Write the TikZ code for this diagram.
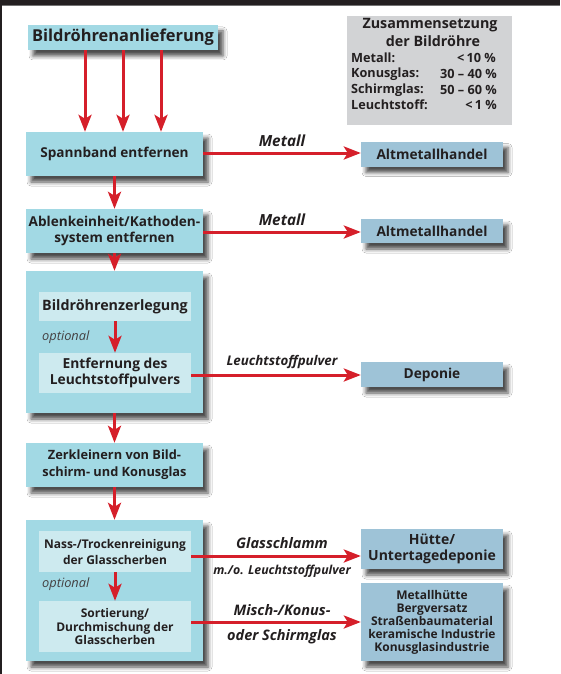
\documentclass[tikz,border=0pt]{standalone}
\usepackage{fontspec}
\setmainfont{Open Sans}
\usetikzlibrary{arrows.meta,shadows.blur,calc}
\definecolor{boxc}{HTML}{A2D9E4}
\definecolor{innerc}{HTML}{CDEAEF}
\definecolor{outc}{HTML}{9EC3D7}
\definecolor{legc}{HTML}{D2D3D5}
\definecolor{arrc}{HTML}{D51F2A}
\definecolor{txtc}{HTML}{231F20}
\newcommand{\fs}[2]{\fontsize{#1}{#2}\selectfont}
\begin{document}
\begin{tikzpicture}[x=1pt,y=-1pt,
  every node/.style={text=txtc},
  shad/.style={blur shadow={shadow xshift=5pt, shadow yshift=-6pt, shadow blur radius=4pt, shadow opacity=70}},
  mainbox/.style={fill=boxc, inner sep=0pt, align=center, font=\bfseries\fs{13.6}{16.5}, shad},
  bigbox/.style={fill=boxc, inner sep=0pt, shad},
  innerbox/.style={fill=innerc, inner sep=0pt, align=center, font=\bfseries\fs{13.8}{16}},
  outbox/.style={fill=outc, inner sep=0pt, align=center, font=\bfseries\fs{13.7}{16}, shad},
  flow/.style={draw=arrc, line width=3pt, -{Stealth[length=17pt,width=13pt,inset=4pt]}},
  lab/.style={font=\bfseries\itshape\fs{14.5}{17}, inner sep=0pt},
  opt/.style={font=\itshape\fs{12.8}{14}, text=txtc!85, inner sep=0pt, anchor=west},
  legt/.style={font=\bfseries\fs{12.7}{15}, inner sep=0pt},
]
\useasboundingbox (0,0) rectangle (560,674);
\fill[white] (0,0) rectangle (560,674);
% frame
\fill[txtc] (0,0) rectangle (560,5);
\fill[black!55] (0,5) rectangle (560,6.5);
\fill[txtc] (0,5) rectangle (2,674);

% legend
\node[fill=legc, minimum width=165pt, minimum height=109pt, inner sep=0pt] (legend) at (429.5,70.5) {};
\node[legt, font=\bfseries\fs{14.3}{16}] (lg1) at (430,25) {Zusammensetzung};
\node[legt, font=\bfseries\fs{14.3}{16}] (lg2) at (433,41) {der Bildröhre};
\node[legt, anchor=west] (lm) at (351,58) {Metall:};
\node[legt, anchor=east] (lmv) at (496,58) {<\,10 \%};
\node[legt, anchor=west] (lk) at (351,74) {Konusglas:};
\node[legt, anchor=east] (lkv) at (497,74) {30 – 40 \%};
\node[legt, anchor=west] (ls) at (351,90) {Schirmglas:};
\node[legt, anchor=east] (lsv) at (497,90) {50 – 60 \%};
\node[legt, anchor=west] (ll) at (351,105) {Leuchtstoff:};
\node[legt, anchor=east] (llv) at (497,105) {<\,1 \%};

% left column
\node[mainbox, minimum width=190pt, minimum height=25pt, font=\bfseries\fs{16.4}{18}] (top) at (123,37.5) {Bildröhrenanlieferung};
\node[mainbox, minimum width=177pt, minimum height=44pt] (spann) at (114.5,154) {Spannband entfernen};
\node[mainbox, minimum width=177pt, minimum height=44pt] (ablenk) at (114.5,231) {Ablenkeinheit/Kathoden-\\system entfernen};
\node[bigbox, minimum width=177pt, minimum height=142pt] (big1) at (114.5,342) {};
\node[innerbox, minimum width=152pt, minimum height=29pt, font=\bfseries\fs{14.3}{16}] (zerl) at (115,306.5) {Bildröhrenzerlegung};
\node[innerbox, minimum width=152pt, minimum height=40pt] (entf) at (115,373) {Entfernung des\\Leuchtstoffpulvers};
\node[opt] (opt1) at (42,337) {optional};
\node[mainbox, minimum width=177pt, minimum height=44pt, font=\bfseries\fs{12.8}{17}] (zerk) at (114.5,465) {Zerkleinern von Bild-\\schirm- und Konusglas};
\node[bigbox, minimum width=177pt, minimum height=141pt] (big2) at (114.5,590.5) {};
\node[innerbox, minimum width=152pt, minimum height=41pt, font=\bfseries\fs{12}{16}] (nass) at (115,551.5) {Nass-/Trockenreinigung\\der Glasscherben};
\node[innerbox, minimum width=152pt, minimum height=51pt, font=\bfseries\fs{12}{13.5}] (sort) at (115,626.5) {Sortierung/\\Durchmischung der\\Glasscherben};
\node[opt] (opt2) at (42,584) {optional};

% right column
\node[outbox, minimum width=142pt, minimum height=25pt] (alt1) at (432,154) {Altmetallhandel};
\node[outbox, minimum width=142pt, minimum height=24pt] (alt2) at (432,231) {Altmetallhandel};
\node[outbox, minimum width=142pt, minimum height=25pt] (dep) at (432,374.5) {Deponie};
\node[outbox, minimum width=142pt, minimum height=40pt, font=\bfseries\fs{14}{16}] (huette) at (432,549) {Hütte/\\Untertagedeponie};
\node[outbox, minimum width=142pt, minimum height=78pt, font=\bfseries\fs{12}{13}] (verw) at (432,622) {Metallhütte\\Bergversatz\\Straßenbaumaterial\\keramische Industrie\\Konusglasindustrie};

% arrows
\coordinate (a1) at ([xshift=-38pt]top.south);
\coordinate (a2) at (top.south);
\coordinate (a3) at ([xshift=38pt]top.south);
\draw[flow] (a1) -- (a1 |- spann.north);
\draw[flow] (a2) -- (a2 |- spann.north);
\draw[flow] (a3) -- (a3 |- spann.north);
\draw[flow] (spann.south) -- (ablenk.north);
\draw[flow] (ablenk.south) -- (big1.north);
\draw[flow] (zerl.south) -- (entf.north);
\draw[flow] (big1.south) -- (zerk.north);
\draw[flow] (zerk.south) -- (big2.north);
\draw[flow] (nass.south) -- (sort.north);

\draw[flow] ([yshift=1pt]spann.east) -- ([yshift=1pt]spann.east -| alt1.west)
  node[lab, midway, yshift=12pt, font=\bfseries\itshape\fs{15.3}{17}] (lb1) {Metall};
\draw[flow] ([yshift=-1pt]ablenk.east) -- ([yshift=-1pt]ablenk.east -| alt2.west)
  node[lab, midway, yshift=12.5pt, font=\bfseries\itshape\fs{15.3}{17}] (lb2) {Metall};
\draw[flow] ([yshift=-2pt]entf.east) -- ([yshift=-2pt]entf.east -| dep.west)
  node[lab, midway, xshift=6pt, yshift=13pt, font=\bfseries\itshape\fs{13.3}{15}] (lb3) {Leuchtstoffpulver};
\draw[flow] ([yshift=-4.5pt]nass.east) -- ([yshift=-4.5pt]nass.east -| huette.west)
  node[lab, midway, xshift=6pt, yshift=13pt] (lb4) {Glasschlamm}
  node[lab, midway, xshift=6pt, yshift=-15pt, font=\bfseries\itshape\fs{12.3}{14}] (lb5) {m./o. Leuchtstoffpulver};
\draw[flow] ([yshift=4.5pt]sort.east) -- ([yshift=4.5pt]sort.east -| verw.west)
  node[lab, midway, xshift=6pt, yshift=12pt] (lb6) {Misch-/Konus-}
  node[lab, midway, xshift=6pt, yshift=-15pt] (lb7) {oder Schirmglas};
\end{tikzpicture}
\end{document}
